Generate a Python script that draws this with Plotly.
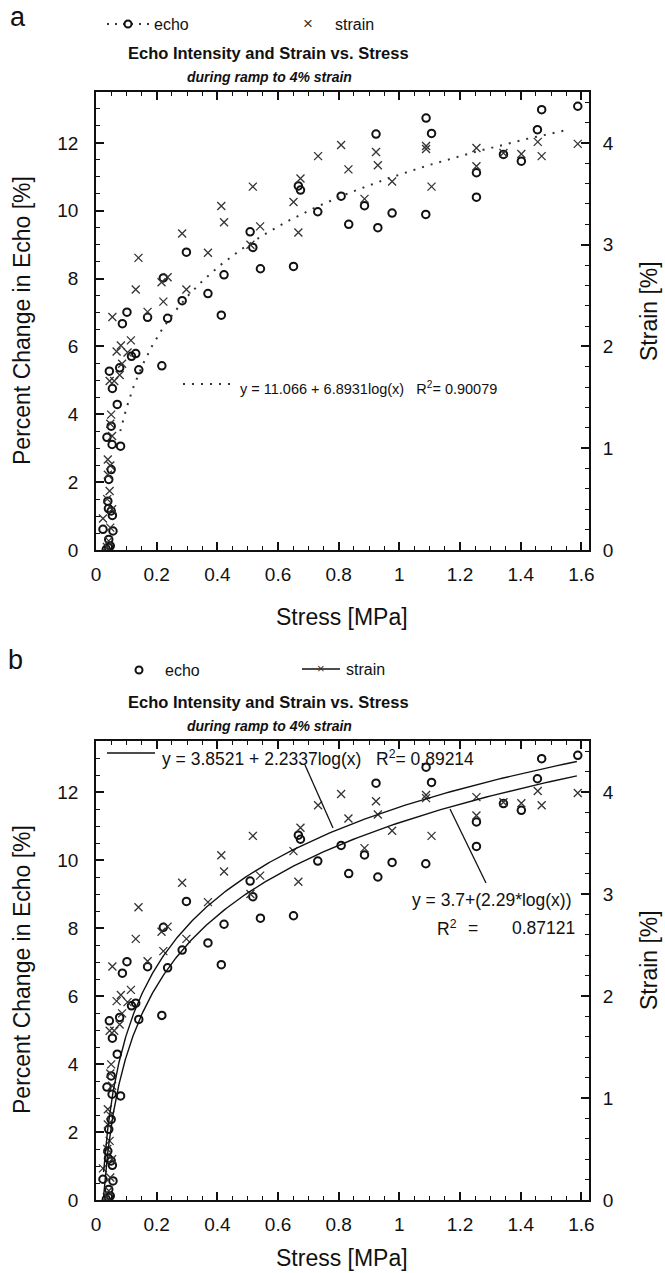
import numpy as np
import plotly.graph_objects as go

# ---------------- data ----------------
stress_echo = [0.923, 0.808, 0.885, 0.833, 0.929, 0.731, 0.667, 0.674, 0.508, 0.517,
               0.542, 0.651, 0.298, 0.422, 0.369, 0.284, 0.413, 0.222, 0.236, 0.170,
               0.102, 0.087, 0.131, 0.117, 1.088, 1.106, 1.469, 1.588, 1.455, 1.402,
               1.254, 1.254, 1.343, 1.087, 0.976, 0.217, 0.141, 0.044, 0.078, 0.054,
               0.070, 0.050, 0.036, 0.081, 0.053, 0.050, 0.042, 0.039, 0.050, 0.023,
               0.056, 0.042, 0.042, 0.034, 0.047, 0.041, 0.054]
echo = [12.26, 10.43, 10.15, 9.60, 9.50, 9.97, 10.73, 10.61, 9.38, 8.92,
        8.29, 8.36, 8.78, 8.11, 7.56, 7.35, 6.92, 8.02, 6.83, 6.86,
        7.01, 6.67, 5.79, 5.71, 12.73, 12.28, 12.98, 13.08, 12.39, 11.46,
        11.12, 10.40, 11.66, 9.89, 9.93, 5.43, 5.31, 5.27, 5.37, 4.76,
        4.29, 3.65, 3.32, 3.06, 3.11, 2.37, 2.08, 1.44, 1.15, 0.61,
        0.56, 0.31, 0.07, 0.02, 0.12, 1.22, 1.02]

stress_strain = [0.808, 0.732, 0.832, 0.923, 0.929, 0.885, 0.674, 0.517, 0.651, 0.667,
                 0.541, 0.509, 0.413, 0.422, 0.369, 0.284, 0.298, 0.236, 0.216, 0.222,
                 0.140, 0.131, 0.170, 0.054, 0.115, 0.082, 0.068, 0.104, 0.976, 1.088,
                 1.088, 1.106, 1.254, 1.254, 1.343, 1.402, 1.456, 1.469, 1.588, 0.086,
                 0.078, 0.045, 0.060, 0.050, 0.047, 0.053, 0.039, 0.047, 0.039, 0.045,
                 0.037, 0.053, 0.023, 0.047, 0.042, 0.036]
strain = [3.98, 3.87, 3.74, 3.91, 3.78, 3.45, 3.65, 3.57, 3.42, 3.12,
          3.18, 3.00, 3.38, 3.22, 2.92, 3.11, 2.56, 2.68, 2.63, 2.44,
          2.87, 2.56, 2.34, 2.29, 2.06, 2.01, 1.95, 1.94, 3.62, 3.97,
          3.94, 3.57, 3.95, 3.77, 3.90, 3.89, 4.01, 3.87, 3.99, 1.83,
          1.72, 1.66, 1.66, 1.33, 1.24, 1.12, 0.89, 0.83, 0.74, 0.58,
          0.50, 0.40, 0.31, 0.22, 0.09, 0.03]

# fit coefficients printed on the chart
fit_a = (11.066, 6.8931)        # echo, panel a
fit_b_upper = (3.8521, 2.2337)  # strain, panel b
fit_b_lower = (3.7, 2.29)       # echo expressed in strain units, panel b
fit_a_span = (0.08, 1.56)
fit_b_span = (0.025, 1.585)

x_ticks_range = [0, 1.625]
echo_range = [0, 13.5]
strain_range = [0, 4.5]

# ---------------- geometry helpers ----------------
W, H = 665, 1273
L, R, T, B = 96, 76, 92, 73
PW, PH = W - L - R, H - T - B


def PX(x):
    return (x - L) / PW


def PY(y):
    return (H - B - y) / PH


ya_bottom = PY(550)
yb_top = PY(741)

REG = "Liberation Sans, Arial, sans-serif"
BLACK = "#111111"
GREY = "#333333"

fig = go.Figure()

circle_marker = dict(symbol="circle-open", size=7.5, color=BLACK, line=dict(width=2, color=BLACK))
cross_marker = dict(symbol="x-thin-open", size=8, color=GREY, line=dict(width=1.3, color=GREY))


def fit_curve(coefs, span):
    xs = np.geomspace(span[0], span[1], 300)
    return xs, coefs[0] + coefs[1] * np.log10(xs)


# panel a
fig.add_trace(go.Scatter(x=stress_echo, y=echo, mode="markers", marker=circle_marker,
                         xaxis="x", yaxis="y", showlegend=False, name="echo"))
fig.add_trace(go.Scatter(x=stress_strain, y=strain, mode="markers", marker=cross_marker,
                         xaxis="x", yaxis="y2", showlegend=False, name="strain"))
fx, fy = fit_curve(fit_a, fit_a_span)
fig.add_trace(go.Scatter(x=fx, y=fy, mode="lines", line=dict(color=GREY, width=2, dash="2px,7px"),
                         xaxis="x", yaxis="y", showlegend=False, name="echo fit"))

# panel b
fig.add_trace(go.Scatter(x=stress_echo, y=echo, mode="markers", marker=circle_marker,
                         xaxis="x2", yaxis="y3", showlegend=False, name="echo"))
fig.add_trace(go.Scatter(x=stress_strain, y=strain, mode="markers", marker=cross_marker,
                         xaxis="x2", yaxis="y4", showlegend=False, name="strain"))
ux, uy = fit_curve(fit_b_upper, fit_b_span)
fig.add_trace(go.Scatter(x=ux, y=uy, mode="lines", line=dict(color=BLACK, width=1.4),
                         xaxis="x2", yaxis="y4", showlegend=False, name="strain fit"))
lx, ly = fit_curve(fit_b_lower, fit_b_span)
fig.add_trace(go.Scatter(x=lx, y=ly, mode="lines", line=dict(color=BLACK, width=1.4),
                         xaxis="x2", yaxis="y4", showlegend=False, name="echo fit"))

tickfont = dict(family=REG, size=19, color=BLACK)
base = dict(showline=True, linecolor=BLACK, linewidth=1.8, ticks="inside", tickcolor=BLACK,
            ticklen=8, tickwidth=1.5, showgrid=False, zeroline=False, tickfont=tickfont)


def xax(anchor):
    return dict(base, domain=[0, 1], anchor=anchor, range=x_ticks_range, dtick=0.2, tick0=0,
                mirror="ticks", ticklabelstandoff=6,
                minor=dict(ticks="inside", ticklen=4, tickwidth=1.2, tickcolor=BLACK,
                           dtick=0.05, tick0=0, showgrid=False))


def yleft(domain, anchor):
    return dict(base, domain=domain, anchor=anchor, range=echo_range, dtick=2, tick0=0,
                ticklabelstandoff=12,
                minor=dict(ticks="inside", ticklen=4, tickwidth=1.2, tickcolor=BLACK,
                           dtick=0.5, tick0=0, showgrid=False))


def yright(overlay, anchor):
    return dict(base, overlaying=overlay, side="right", anchor=anchor, range=strain_range,
                dtick=1, tick0=0, ticklabelstandoff=8,
                minor=dict(ticks="inside", ticklen=4, tickwidth=1.2, tickcolor=BLACK,
                           dtick=0.2, tick0=0, showgrid=False))


annotations = []
shapes = []


def text(x, y, s, size, family=REG, xanchor="left", angle=0, color=BLACK):
    annotations.append(dict(x=PX(x), y=PY(y), xref="paper", yref="paper", text=s,
                            showarrow=False, xanchor=xanchor, yanchor="middle",
                            textangle=angle, font=dict(family=family, size=size, color=color)))


def line(x0, y0, x1, y1, width=1.3, dash="solid", color=BLACK):
    shapes.append(dict(type="line", xref="paper", yref="paper", x0=PX(x0), y0=PY(y0),
                       x1=PX(x1), y1=PY(y1), line=dict(color=color, width=width, dash=dash)))


def circ(cx, cy, r=3.5):
    shapes.append(dict(type="circle", xref="paper", yref="paper", x0=PX(cx - r), x1=PX(cx + r),
                       y0=PY(cy + r), y1=PY(cy - r), line=dict(color=BLACK, width=2)))


NB = "\u00a0"
for off, tag in [(0, "a"), (649, "b")]:
    plot_top = 92 + off
    plot_bot = 550 + off
    text(18 if tag == "a" else 15, 17 if tag == "a" else 660, tag, 27, REG, "center")
    text(268, plot_top - 39, "<b>Echo Intensity and Strain vs. Stress</b>", 16.5, REG, "center")
    text(269, plot_top - 15, "<b><i>during ramp to 4% strain</i></b>", 14, REG, "center")
    text(22, (plot_top + plot_bot) / 2, "Percent Change in Echo [%]", 23, REG, "center", -90)
    text(649, (plot_top + plot_bot) / 2 - 10, "Strain [%]", 23, REG, "center", -90)
    text(342, 617 if tag == "a" else 1258, "Stress [MPa]", 23, REG, "center")

# legend panel a
line(107, 24, 150, 24, width=2, dash="2px,6px", color=GREY)
circ(128, 24)
text(152, 24, "echo", 16, REG)
text(308, 23, "×", 17, REG, "center", color=GREY)
text(333, 24, "strain", 16, REG)

# legend panel b
circ(139, 670)
text(163, 670, "echo", 16, REG)
line(302, 669, 340, 669, width=1.4)
text(321, 668, "×", 13, REG, "center", color=GREY)
text(344, 669, "strain", 16, REG)

# equation panel a
line(183, 384, 233, 384, width=2, dash="2px,7px", color=GREY)
text(238, 388, "y = 11.066 + 6.8931log(x)" + NB * 3 + "R<sup>2</sup>= 0.90079", 14.5, REG)

# equations panel b
line(107, 753, 155, 753, width=1.4)
text(160, 758, "y = 3.8521 + 2.2337log(x)" + NB * 3 + "R<sup>2</sup>= 0.89214", 17.5, REG)
line(305, 765, 333, 828, width=1.3)
line(450, 809, 486, 883, width=1.3)
text(410, 900, "y = 3.7+(2.29*log(x))", 17.5, REG)
text(435, 928, "R<sup>2</sup>", 17.5, REG)
text(473, 928, "=", 17.5, REG, "center")
text(510, 928, "0.87121", 17.5, REG)

fig.update_layout(
    width=W, height=H,
    margin=dict(l=L, r=R, t=T, b=B, autoexpand=False),
    paper_bgcolor="white", plot_bgcolor="white",
    showlegend=False,
    xaxis=xax("y"),
    yaxis=yleft([ya_bottom, 1], "x"),
    yaxis2=yright("y", "x"),
    xaxis2=xax("y3"),
    yaxis3=yleft([0, yb_top], "x2"),
    yaxis4=yright("y3", "x2"),
    annotations=annotations,
    shapes=shapes,
)

fig.write_html("out.html")
